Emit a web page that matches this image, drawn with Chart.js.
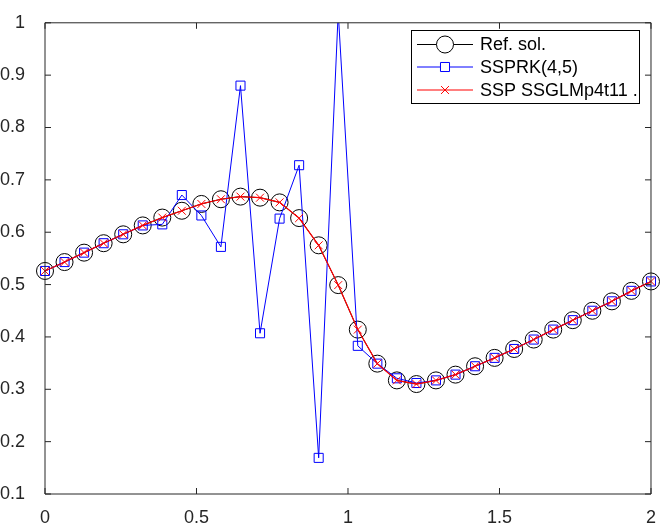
<!DOCTYPE html>
<html>
<head>
<meta charset="utf-8">
<script src="https://cdn.jsdelivr.net/npm/chart.js@4/dist/chart.umd.min.js"></script>
<style>
  html, body { margin: 0; padding: 0; background: #fff; }
  #wrap { width: 661px; height: 523px; position: relative; }
</style>
</head>
<body>
<div id="wrap"><canvas id="c" width="661" height="523"></canvas></div>
<script>
// ---- data ----
const xValues = [0, 0.0645, 0.1290, 0.1935, 0.2581, 0.3226, 0.3871, 0.4516, 0.5161, 0.5806,
  0.6452, 0.7097, 0.7742, 0.8387, 0.9032, 0.9677, 1.0323, 1.0968, 1.1613, 1.2258,
  1.2903, 1.3548, 1.4194, 1.4839, 1.5484, 1.6129, 1.6774, 1.7419, 1.8065, 1.8710,
  1.9355, 2.0000];
const refSol = [0.526, 0.543, 0.561, 0.579, 0.596, 0.613, 0.628, 0.641, 0.654, 0.663,
  0.668, 0.666, 0.657, 0.627, 0.575, 0.499, 0.414, 0.349, 0.317, 0.310,
  0.317, 0.328, 0.344, 0.360, 0.377, 0.395, 0.414, 0.432, 0.450, 0.468,
  0.488, 0.506];
const ssprk45 = [0.526, 0.543, 0.561, 0.579, 0.596, 0.613, 0.615, 0.671, 0.632, 0.572,
  0.880, 0.407, 0.626, 0.728, 0.169, 1.020, 0.383, 0.349, 0.321, 0.312,
  0.317, 0.328, 0.344, 0.360, 0.377, 0.395, 0.414, 0.432, 0.450, 0.468,
  0.488, 0.506];
const sspGLM = [0.526, 0.543, 0.561, 0.579, 0.596, 0.613, 0.628, 0.641, 0.654, 0.663,
  0.668, 0.666, 0.657, 0.627, 0.575, 0.499, 0.414, 0.349, 0.317, 0.310,
  0.317, 0.328, 0.344, 0.360, 0.377, 0.395, 0.414, 0.432, 0.450, 0.468,
  0.488, 0.506];
const seriesLabels = ['Ref. sol.', 'SSPRK(4,5)', 'SSP SSGLMp4t11 .'];
const xTicks = [0, 0.5, 1, 1.5, 2];
const yTicks = [0.1, 0.2, 0.3, 0.4, 0.5, 0.6, 0.7, 0.8, 0.9, 1];

const FONT = 'Liberation Sans, Arial, Helvetica, sans-serif';
const AXIS_COLOR = '#262626';
const CLIP = { left: 12, right: 12, top: 0, bottom: 12 };

function pts(ys) { return xValues.map((x, i) => ({ x: x, y: ys[i] })); }

const datasets = [
  { label: seriesLabels[0], data: pts(refSol), borderColor: '#000000', borderWidth: 1,
    pointStyle: 'circle', pointRadius: 8.5, pointBorderWidth: 1, pointBorderColor: '#000000',
    pointBackgroundColor: 'rgba(0,0,0,0)', order: 3, clip: CLIP },
  { label: seriesLabels[1], data: pts(ssprk45), borderColor: '#0000ff', borderWidth: 1,
    pointStyle: 'rect', pointRadius: 6.4, pointBorderWidth: 1, pointBorderColor: '#0000ff',
    pointBackgroundColor: 'rgba(0,0,0,0)', order: 2, clip: CLIP },
  { label: seriesLabels[2], data: pts(sspGLM), borderColor: '#ff0000', borderWidth: 1.2,
    pointStyle: 'crossRot', pointRadius: 5.6, pointBorderWidth: 1, pointBorderColor: '#ff0000',
    pointBackgroundColor: 'rgba(0,0,0,0)', order: 1, clip: CLIP }
];

const boxPlugin = {
  id: 'boxPlugin',
  afterDraw(chart) {
    const ctx = chart.ctx, a = chart.chartArea;
    const xs = chart.scales.x, ys = chart.scales.y;
    ctx.save();
    ctx.strokeStyle = AXIS_COLOR;
    ctx.lineWidth = 1;
    ctx.beginPath();
    ctx.rect(a.left, a.top, a.right - a.left, a.bottom - a.top);
    ctx.stroke();
    const tl = 6;
    ctx.beginPath();
    xTicks.forEach(v => {
      const p = xs.getPixelForValue(v);
      ctx.moveTo(p, a.bottom); ctx.lineTo(p, a.bottom - tl);
      ctx.moveTo(p, a.top); ctx.lineTo(p, a.top + tl);
    });
    yTicks.forEach(v => {
      const p = ys.getPixelForValue(v);
      ctx.moveTo(a.left, p); ctx.lineTo(a.left + tl, p);
      ctx.moveTo(a.right, p); ctx.lineTo(a.right - tl, p);
    });
    ctx.stroke();

    // legend
    const lx = 411, ly = 30, lw = 228, lh = 73;
    ctx.fillStyle = '#ffffff';
    ctx.fillRect(lx, ly, lw, lh);
    ctx.strokeStyle = '#000000';
    ctx.strokeRect(lx + 0.5, ly + 0.5, lw, lh);
    const rows = [44.5, 67, 90];
    chart.data.datasets.forEach((ds, i) => {
      const y = rows[i];
      ctx.strokeStyle = ds.borderColor;
      ctx.lineWidth = ds.borderWidth;
      ctx.beginPath();
      ctx.moveTo(417, y); ctx.lineTo(473, y);
      ctx.stroke();
      ctx.lineWidth = 1;
      ctx.fillStyle = '#ffffff';
      ctx.strokeStyle = ds.pointBorderColor;
      Chart.helpers.drawPoint(ctx, {
        pointStyle: ds.pointStyle, radius: ds.pointRadius, borderWidth: 1, rotation: 0
      }, 445, y);
      ctx.fillStyle = '#000000';
      ctx.font = '18px ' + FONT;
      ctx.textAlign = 'left';
      ctx.textBaseline = 'middle';
      ctx.fillText(ds.label, 480, y + 1);
    });
    ctx.restore();
  }
};

new Chart(document.getElementById('c'), {
  type: 'line',
  data: { datasets: datasets },
  options: {
    responsive: false,
    animation: false,
    devicePixelRatio: 1,
    layout: { padding: { left: 0, top: 15, right: 8, bottom: 0 } },
    plugins: { legend: { display: false }, tooltip: { enabled: false } },
    elements: { line: { tension: 0 } },
    scales: {
      x: {
        type: 'linear', min: 0, max: 2,
        afterBuildTicks(scale) { scale.ticks = xTicks.map(v => ({ value: v })); },
        afterFit(scale) { scale.height = 29; },
        grid: { display: false },
        border: { display: false },
        ticks: { color: AXIS_COLOR, font: { family: FONT, size: 18 }, padding: 5, maxRotation: 0,
          callback: v => String(v) }
      },
      y: {
        type: 'linear', min: 0.1, max: 1,
        afterBuildTicks(scale) { scale.ticks = yTicks.map(v => ({ value: v })); },
        afterFit(scale) { scale.width = 45; },
        grid: { display: false },
        border: { display: false },
        ticks: { color: AXIS_COLOR, font: { family: FONT, size: 18 }, padding: 12,
          callback: v => String(Math.round(v * 10) / 10) }
      }
    }
  },
  plugins: [boxPlugin]
});
</script>
</body>
</html>
